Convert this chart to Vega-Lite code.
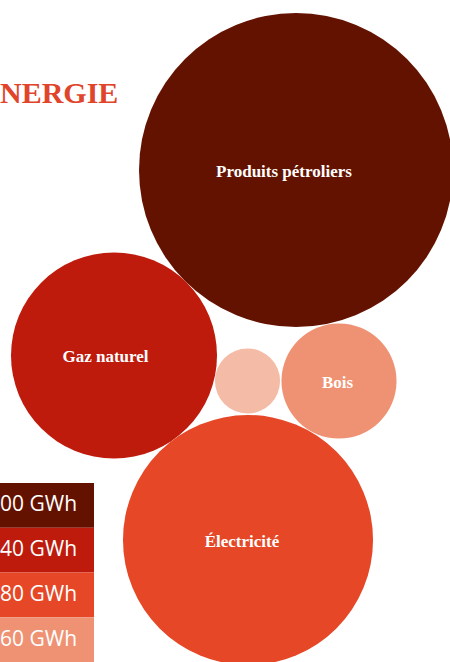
{
  "$schema": "https://vega.github.io/schema/vega-lite/v6.json",
  "width": 450,
  "height": 662,
  "padding": 0,
  "autosize": {"type": "fit", "contains": "padding"},
  "background": "white",
  "config": {"view": {"stroke": null}},
  "datasets": {
    "bubbles": [
      {"source": "Produits pétroliers", "label": "Produits pétroliers", "gwh": 2465, "cx": 296, "cy": 170, "lx": 284, "ly": 172},
      {"source": "Gaz naturel", "label": "Gaz naturel", "gwh": 1061, "cx": 114, "cy": 355.5, "lx": 105.5, "ly": 357},
      {"source": "Autres", "label": "", "gwh": 106, "cx": 247.5, "cy": 381, "lx": 247.5, "ly": 381},
      {"source": "Bois", "label": "Bois", "gwh": 331, "cx": 339, "cy": 381, "lx": 337.5, "ly": 383},
      {"source": "Électricité", "label": "Électricité", "gwh": 1563, "cx": 248, "cy": 540, "lx": 242, "ly": 542}
    ],
    "legend": [
      {"label": "00 GWh", "source": "Produits pétroliers"},
      {"label": "40 GWh", "source": "Gaz naturel"},
      {"label": "80 GWh", "source": "Électricité"},
      {"label": "60 GWh", "source": "Bois"}
    ],
    "title": [{"t": "NERGIE", "px": 0, "py": 94}]
  },
  "resolve": {"scale": {"y": "independent"}},
  "layer": [
    {
      "layer": [
        {
          "data": {"name": "bubbles"},
          "mark": {"type": "circle", "opacity": 1, "clip": true},
          "encoding": {
            "x": {"field": "cx", "type": "quantitative", "scale": {"domain": [0, 450], "nice": false, "zero": false}, "axis": null},
            "y": {"field": "cy", "type": "quantitative", "scale": {"domain": [0, 662], "nice": false, "zero": false, "reverse": true}, "axis": null},
            "size": {"field": "gwh", "type": "quantitative", "scale": {"domain": [0, 2500], "range": [0, 100000]}, "legend": null},
            "color": {
              "field": "source", "type": "nominal", "legend": null,
              "scale": {
                "domain": ["Produits pétroliers", "Gaz naturel", "Électricité", "Bois", "Autres"],
                "range": ["#641200", "#BE1B0D", "#E54727", "#EF9273", "#F4BBA6"]
              }
            }
          }
        },
        {
          "data": {"name": "bubbles"},
          "mark": {"type": "text", "font": "Liberation Serif", "fontWeight": "bold", "fontSize": 17, "color": "#FFFFFF", "baseline": "middle", "align": "center", "clip": true},
          "encoding": {
            "x": {"field": "lx", "type": "quantitative"},
            "y": {"field": "ly", "type": "quantitative"},
            "text": {"field": "label"}
          }
        },
        {
          "data": {"name": "title"},
          "mark": {"type": "text", "font": "Liberation Serif", "fontWeight": "bold", "fontSize": 30, "color": "#E0452B", "baseline": "middle", "align": "left", "clip": true},
          "encoding": {
            "x": {"field": "px", "type": "quantitative"},
            "y": {"field": "py", "type": "quantitative"},
            "text": {"field": "t"}
          }
        }
      ]
    },
    {
      "data": {"name": "legend"},
      "layer": [
        {
          "mark": {"type": "rect", "clip": true},
          "encoding": {
            "y": {"field": "label", "type": "nominal", "sort": null, "axis": null, "scale": {"range": [483, 662], "paddingInner": 0, "paddingOuter": 0}},
            "x": {"datum": 0, "type": "quantitative"},
            "x2": {"datum": 94},
            "color": {"field": "source", "type": "nominal", "legend": null}
          }
        },
        {
          "mark": {"type": "text", "font": "Open Sans", "fontSize": 21, "color": "#FFFFFF", "align": "left", "baseline": "middle", "clip": true},
          "encoding": {
            "y": {"field": "label", "type": "nominal", "sort": null, "axis": null},
            "x": {"datum": 0, "type": "quantitative"},
            "text": {"field": "label"}
          }
        }
      ]
    }
  ]
}
